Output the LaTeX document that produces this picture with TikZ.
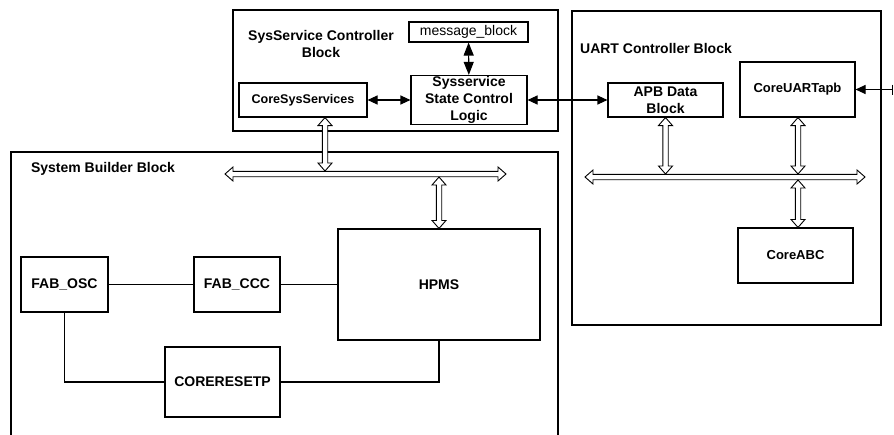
\documentclass[tikz,border=0pt]{standalone}
\usepackage{fontspec}
\setmainfont{Liberation Sans}
\usetikzlibrary{arrows.meta,calc}

\tikzset{
  frame/.style={draw, line width=1.1pt, minimum width=#1},
  blk/.style={draw, line width=1.1pt, inner sep=1pt, align=center, font=\bfseries\fontsize{14}{17}\selectfont},
  ttl/.style={align=center, inner sep=0pt, font=\bfseries\fontsize{14}{17}\selectfont},
  sig/.style={line width=1.1pt, {Triangle[length=10pt,width=9pt]}-{Triangle[length=10pt,width=9pt]}},
  wire/.style={line width=1.1pt},
  hollow/.style={draw, fill=white, line width=0.9pt, line join=miter}
}
% hollow double arrow (bus) between two points
\newcommand{\busarrow}[2]{%
  \draw[hollow] (#1)
    -- ($(#1)!8pt!(#2)!7pt!90:(#2)$) -- ($(#1)!8pt!(#2)!2.7pt!90:(#2)$)
    -- ($(#2)!8pt!(#1)!2.7pt!-90:(#1)$) -- ($(#2)!8pt!(#1)!7pt!-90:(#1)$)
    -- (#2)
    -- ($(#2)!8pt!(#1)!7pt!90:(#1)$) -- ($(#2)!8pt!(#1)!2.7pt!90:(#1)$)
    -- ($(#1)!8pt!(#2)!2.7pt!-90:(#2)$) -- ($(#1)!8pt!(#2)!7pt!-90:(#2)$)
    -- cycle;}

\begin{document}
\begin{tikzpicture}[x=1pt,y=-1pt]
\useasboundingbox (0,0) rectangle (894,434);
\clip (0,0) rectangle (894,434);

% outer blocks
\node[frame=325pt, minimum height=121pt] (ssc) at (395.5,70.5) {};
\node[frame=547pt, minimum height=290pt] (sbb) at (284.5,297) {};
\node[frame=309pt, minimum height=314pt] (uart) at (726.5,168) {};
\node[ttl] (ssctitle) at (321,43.5) {SysService Controller\\Block};
\node[ttl] (sbbtitle) at (103,169) {System Builder Block};
\node[ttl] (uarttitle) at (656,48) {UART Controller Block};

% SysService controller
\node[draw, line width=1.1pt, inner sep=0pt, minimum width=119pt, minimum height=20pt, font=\fontsize{14}{17}\selectfont] (msg) at (468.5,32) {message\_block};
\node[blk, minimum width=116pt, minimum height=48pt] (ssl) at (469,100) {Sysservice\\State Control\\Logic};
\node[blk, minimum width=128pt, minimum height=34pt, font=\bfseries\fontsize{12.6}{15}\selectfont] (css) at (303,100) {CoreSysServices};

% system builder
\node[blk, minimum width=202pt, minimum height=111pt] (hpms) at (439,284.5) {HPMS};
\node[blk, minimum width=87pt, minimum height=55pt] (osc) at (64.5,284.5) {FAB\_OSC};
\node[blk, minimum width=86pt, minimum height=55pt] (ccc) at (237,284.5) {FAB\_CCC};
\node[blk, minimum width=115pt, minimum height=70pt] (rst) at (222.5,382) {CORERESETP};

% UART controller
\node[blk, minimum width=115pt, minimum height=34pt] (apb) at (665.5,100) {APB Data\\Block};
\node[blk, minimum width=115pt, minimum height=55pt, font=\bfseries\fontsize{13}{16}\selectfont] (cua) at (797.5,89.5) {CoreUARTapb};
\node[blk, minimum width=115pt, minimum height=55pt, font=\bfseries\fontsize{13}{16}\selectfont] (abc) at (795.5,255.5) {CoreABC};

% signals
\draw[sig] (css) -- (ssl);
\draw[sig] (ssl) -- (apb);
\draw[line width=1.1pt, {Triangle[length=13pt,width=10pt]}-{Triangle[length=13pt,width=10pt]}] (msg) -- (ssl);
\coordinate (uartin) at (893,89.5);
\draw[line width=1.1pt, {Bar[width=10pt]}-{Triangle[length=10pt,width=9pt]}] (uartin) -- (cua);

\draw[wire] (osc) -- (ccc);
\draw[wire] (ccc) -- (hpms);
\draw[wire] (osc) |- (rst);
\draw[wire] (rst) -| (hpms);

% buses
\coordinate (sbusl) at (225,174);
\coordinate (sbusr) at (506,174);
\coordinate (ubusl) at (585,177);
\coordinate (ubusr) at (865,177);
\busarrow{sbusl}{sbusr}
\busarrow{ubusl}{ubusr}
\busarrow{css.south -| 325,0}{325,171}
\busarrow{hpms.north}{439,177}
\busarrow{apb.south}{665.5,174}
\busarrow{cua.south -| 798,0}{798,174}
\busarrow{798,180}{abc.north -| 798,0}
\end{tikzpicture}
\end{document}
